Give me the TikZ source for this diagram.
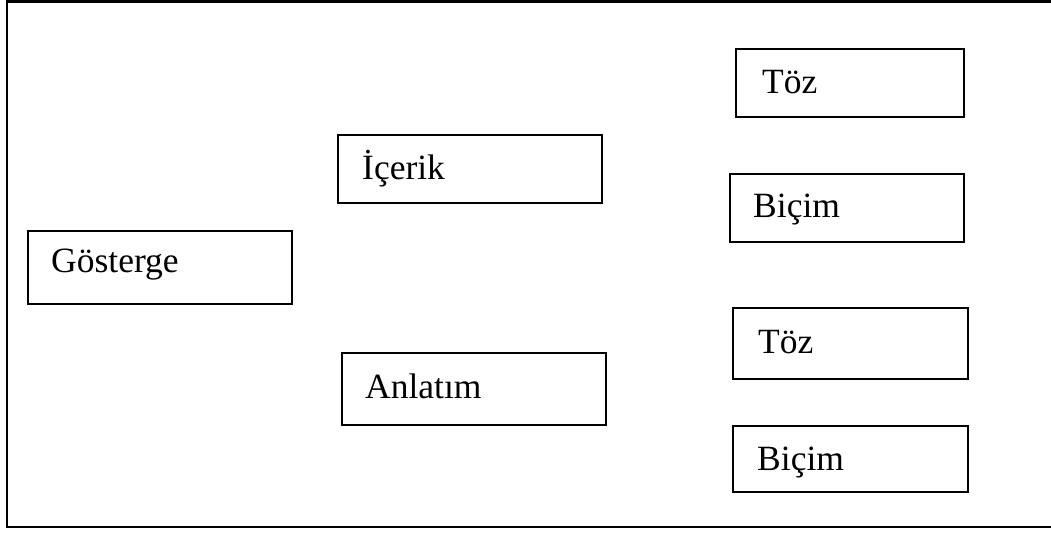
\documentclass[tikz,border=0pt]{standalone}
\usepackage{fontspec}
\setmainfont{Liberation Serif}
\begin{document}
\begin{tikzpicture}[x=1pt,y=-1pt,
  boxline/.style={draw=black,line width=2.8pt},
  lbl/.style={anchor=base west,inner sep=0pt,font=\fontsize{35.5}{42}\selectfont}]
\useasboundingbox (0,0) rectangle (1051,534);
\begin{scope}
\clip (0,0) rectangle (1051,534);
\draw[boxline] (7,1.5) rectangle (1060,527);
\end{scope}
\draw[boxline] (28,231) rectangle (292,304);
\node[lbl] (gosterge) at (51,273) {Gösterge};
\draw[boxline] (338,135) rectangle (602,203);
\node[lbl] (icerik) at (362,180) {İçerik};
\draw[boxline] (342,353) rectangle (606,425);
\node[lbl] (anlatim) at (365,398) {Anlatım};
\draw[boxline] (736,49) rectangle (964,117);
\node[lbl] (toz1) at (762,94) {Töz};
\draw[boxline] (730,174) rectangle (964,242);
\node[lbl] (bicim1) at (753,218) {Biçim};
\draw[boxline] (733,308) rectangle (968,379);
\node[lbl] (toz2) at (758,353) {Töz};
\draw[boxline] (733,426) rectangle (968,492);
\node[lbl] (bicim2) at (757,470) {Biçim};
\end{tikzpicture}
\end{document}
